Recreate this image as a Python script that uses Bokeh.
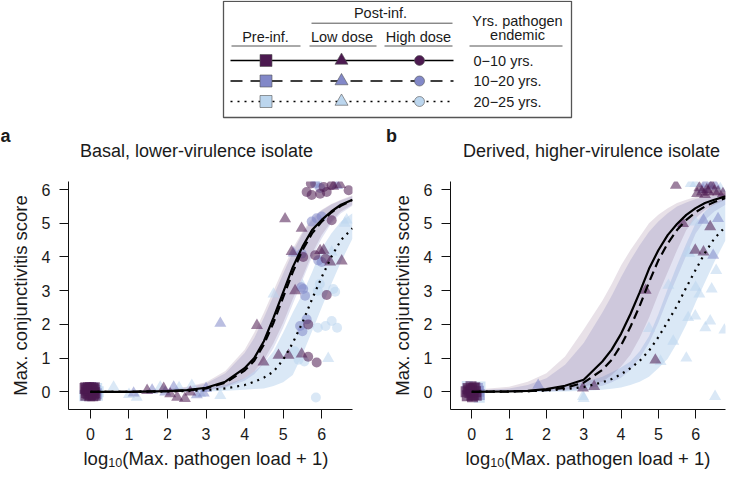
from bokeh.plotting import figure
from bokeh.models import Range1d, FixedTicker
from bokeh.layouts import column, row
from bokeh.embed import file_html
from bokeh.resources import INLINE
from bokeh.core.properties import value

FONT = "Liberation Sans"
TXT = "#1a1a1a"

# ---------------- data ----------------
groups = ["0\u221210 yrs.", "10\u221220 yrs.", "20\u221225 yrs."]
colors = ["#4c1a50", "#8288c8", "#bcd6ee"]
band_alpha = [0.13, 0.23, 0.55]
dashes = ["solid", "9 5", "2 5"]
x_ticks = [0, 1, 2, 3, 4, 5, 6]
y_ticks = [0, 1, 2, 3, 4, 5, 6]
titles = ["Basal, lower-virulence isolate", "Derived, higher-virulence isolate"]
panel_tags = ["a", "b"]
y_title = "Max. conjunctivitis score"
x_title = ["log", "10", "(Max. pathogen load + 1)"]

# fitted curves and bands, panel a
xa = [0, 1, 2, 2.5, 3, 3.5, 4, 4.25, 4.5, 4.75, 5, 5.25, 5.5, 5.75, 6, 6.25, 6.5, 6.8]
a_fit_0 = [0, 0, 0.02, 0.05, 0.12, 0.3, 0.7, 1.0, 1.5, 2.2, 2.95, 3.7, 4.3, 4.8, 5.1, 5.35, 5.55, 5.7]
a_fit_1 = [0, 0, 0.02, 0.04, 0.1, 0.27, 0.63, 0.92, 1.4, 2.05, 2.8, 3.55, 4.2, 4.7, 5.05, 5.32, 5.52, 5.69]
a_fit_2 = [0, 0, 0.01, 0.02, 0.05, 0.1, 0.2, 0.3, 0.42, 0.6, 0.95, 1.45, 2.05, 2.75, 3.4, 4.0, 4.5, 4.85]
a_hi_0 = [0.02, 0.03, 0.08, 0.15, 0.28, 0.62, 1.25, 1.75, 2.35, 3.0, 3.65, 4.25, 4.75, 5.15, 5.4, 5.57, 5.7, 5.83]
a_lo_0 = [0, 0, 0, 0.01, 0.04, 0.15, 0.4, 0.6, 0.95, 1.45, 2.05, 2.75, 3.4, 4.1, 4.65, 5.05, 5.35, 5.55]
a_hi_1 = [0.02, 0.03, 0.07, 0.13, 0.25, 0.55, 1.15, 1.6, 2.2, 2.85, 3.5, 4.15, 4.7, 5.1, 5.38, 5.56, 5.68, 5.8]
a_lo_1 = [0, 0, 0, 0.01, 0.03, 0.12, 0.33, 0.52, 0.85, 1.3, 1.9, 2.6, 3.3, 4.0, 4.55, 5.0, 5.3, 5.52]
a_hi_2 = [0.01, 0.02, 0.05, 0.08, 0.13, 0.2, 0.4, 0.6, 0.85, 1.2, 1.75, 2.35, 2.9, 3.55, 4.25, 4.7, 5.05, 5.3]
a_lo_2 = [0, 0, 0, 0, 0.01, 0.03, 0.06, 0.08, 0.1, 0.17, 0.28, 0.5, 1.1, 1.8, 2.5, 3.2, 3.85, 4.55]

# fitted curves and bands, panel b
xb = [0, 1, 1.5, 2, 2.5, 3, 3.5, 3.75, 4, 4.25, 4.5, 4.75, 5, 5.25, 5.5, 5.75, 6, 6.25, 6.5, 6.8]
b_fit_0 = [0, 0.01, 0.03, 0.08, 0.18, 0.36, 0.9, 1.25, 1.72, 2.3, 2.95, 3.65, 4.2, 4.65, 4.98, 5.25, 5.45, 5.6, 5.7, 5.8]
b_fit_1 = [0, 0.005, 0.02, 0.05, 0.12, 0.27, 0.65, 0.95, 1.38, 1.92, 2.55, 3.25, 3.9, 4.4, 4.8, 5.1, 5.33, 5.5, 5.63, 5.75]
b_fit_2 = [0, 0.01, 0.02, 0.04, 0.08, 0.14, 0.28, 0.38, 0.52, 0.7, 0.92, 1.22, 1.62, 2.08, 2.55, 3.1, 3.62, 4.12, 4.55, 4.9]
b_hi_0 = [0.05, 0.15, 0.3, 0.55, 1.05, 1.85, 2.7, 3.2, 3.75, 4.2, 4.6, 5.0, 5.25, 5.45, 5.6, 5.7, 5.78, 5.83, 5.87, 5.9]
b_lo_0 = [0, 0, 0.01, 0.02, 0.06, 0.15, 0.3, 0.5, 0.75, 1.1, 1.6, 2.2, 2.9, 3.55, 4.2, 4.8, 5.15, 5.4, 5.55, 5.7]
b_hi_1 = [0.03, 0.1, 0.2, 0.4, 0.8, 1.45, 2.35, 2.85, 3.4, 3.9, 4.35, 4.75, 5.05, 5.3, 5.5, 5.62, 5.72, 5.78, 5.82, 5.87]
b_lo_1 = [0, 0, 0, 0.01, 0.03, 0.08, 0.18, 0.28, 0.42, 0.65, 1.0, 1.45, 2.05, 2.75, 3.4, 4.05, 4.7, 5.1, 5.35, 5.55]
b_hi_2 = [0.01, 0.02, 0.04, 0.08, 0.15, 0.28, 0.45, 0.58, 0.72, 0.9, 1.2, 1.65, 2.3, 3.05, 3.75, 4.4, 5.0, 5.35, 5.6, 5.75]
b_lo_2 = [0, 0, 0, 0, 0.01, 0.03, 0.06, 0.09, 0.13, 0.2, 0.3, 0.45, 0.7, 0.98, 1.45, 2.0, 2.65, 3.25, 3.85, 4.5]

# observations (x, y) — panel a
a_pre_0 = [(-0.1, 0.05), (0.0, -0.08), (0.05, 0.1), (0.1, -0.02), (-0.12, -0.1), (0.08, 0.08), (0.12, -0.1),
           (-0.05, 0.12), (0.02, 0.0), (-0.14, 0.1), (-0.06, -0.05), (0.06, -0.12), (-0.02, -0.12), (0.0, 0.12),
           (-0.1, -0.02), (0.04, 0.04), (-0.04, 0.06), (0.1, 0.12), (-0.12, 0.12), (0.08, -0.06)]
a_pre_1 = [(0.12, 0.04), (-0.08, 0.1), (0.15, -0.06), (0.04, 0.12)]
a_pre_2 = [(0.16, 0.1), (0.18, -0.1), (-0.15, -0.12), (0.2, 0.0)]
a_low_0 = [(1.47, 0.04), (2.07, -0.06), (2.25, -0.16), (2.59, -0.01), (1.9, 0.1), (2.45, -0.2), (4.32, 1.97),
           (4.49, 0.88), (4.88, 1.08), (5.14, 1.08), (5.48, 1.12), (5.05, 5.13), (5.22, 4.16), (5.48, 4.85),
           (5.31, 3.0), (5.96, 4.19), (6.05, 4.2), (6.22, 3.85), (6.52, 3.88), (6.48, 6.15), (6.3, 6.1)]
a_low_1 = [(1.12, -0.04), (1.94, -0.01), (2.16, 0.14), (2.76, -0.09), (2.94, -0.04), (1.6, 0.05), (3.0, 0.1),
           (3.37, 2.03), (5.27, 4.12), (6.4, 6.12)]
a_low_2 = [(0.6, 0.14), (1.2, -0.16), (1.81, 0.14), (2.63, 0.19), (3.37, -0.11), (2.3, 0.12), (1.0, -0.08),
           (2.85, -0.05), (6.65, 5.1), (6.26, 4.15), (6.17, 0.99), (4.75, 2.9), (5.5, 3.15), (6.6, 5.0)]
a_high_0 = [(5.61, 5.93), (5.74, 5.84), (5.96, 5.88), (6.05, 6.08), (6.13, 5.93), (6.26, 6.13), (6.7, 5.98),
            (6.26, 5.09), (5.83, 4.05), (6.1, 3.95), (6.13, 2.87), (5.65, 2.0), (5.65, 1.04), (5.87, 0.87),
            (5.72, 6.18), (5.52, 4.0)]
a_high_1 = [(5.83, 6.18), (5.96, 6.05), (5.74, 5.05), (5.87, 5.15), (5.48, 4.1), (5.91, 3.9), (6.0, 3.85),
            (5.52, 3.05), (5.57, 2.85), (5.47, 3.1), (5.44, 1.95), (5.61, 2.15), (5.5, 1.8), (6.0, 5.2)]
a_high_2 = [(5.85, -0.17), (5.9, 1.9), (6.1, 1.95), (6.26, 2.1), (6.35, 2.97), (5.9, 3.0), (5.4, 0.95),
            (5.55, 0.9), (5.95, 3.2), (5.88, 6.2), (6.3, 3.05), (6.4, 1.9), (5.3, 1.2)]

# observations (x, y) — panel b
b_pre_0 = [(-0.1, 0.1), (0.0, 0.05), (0.05, -0.08), (-0.12, -0.12), (0.08, 0.12), (-0.05, -0.02), (0.1, 0.0),
           (0.02, -0.15), (-0.15, 0.0), (0.12, -0.1), (-0.02, 0.15), (0.05, 0.1), (-0.08, 0.05), (0.0, -0.1)]
b_pre_1 = [(0.18, 0.02), (0.2, -0.08), (0.15, 0.1)]
b_pre_2 = [(0.2, -0.16), (-0.12, 0.16), (0.22, 0.14)]
b_low_0 = [(2.98, 0.11), (3.28, 0.16), (4.66, 3.01), (4.92, 0.94), (5.47, 6.13), (6.04, 5.88), (6.17, 5.93),
           (6.34, 5.93), (6.43, 6.13), (6.6, 5.93), (6.73, 5.88), (6.39, 4.9), (5.66, 4.99), (5.99, 4.2),
           (6.21, 4.15), (6.3, 6.0), (6.5, 5.95), (6.1, 6.05), (6.25, 5.85)]
b_low_1 = [(1.78, 0.19), (6.26, 6.18), (6.52, 6.13), (6.21, 5.09), (6.6, 5.14), (6.47, 4.05), (6.4, 6.08),
           (6.2, 6.0)]
b_low_2 = [(5.87, 6.18), (5.99, 6.18), (6.66, 6.03), (5.99, 5.04), (5.8, 4.15), (5.27, 3.16), (6.0, 3.1),
           (6.1, 2.9), (6.43, 3.05), (4.75, 1.88), (5.8, 2.2), (5.99, 2.25), (6.26, 1.9), (6.39, 2.1),
           (6.77, 1.83), (5.06, 0.9), (5.75, 1.0), (2.98, -0.14), (6.52, -0.14), (3.0, -0.2), (5.4, 1.5),
           (6.55, 3.6), (5.83, 4.1)]

X_RANGE = (-0.57, 6.8)
Y_RANGE = (-0.525, 6.24)


def make_panel(width, mbl, mbr, xs, fits, his, los, pre, low, high):
    p = figure(width=width, height=283, x_range=Range1d(*X_RANGE), y_range=Range1d(*Y_RANGE),
               min_border_left=mbl, min_border_right=mbr, min_border_top=16, min_border_bottom=39,
               output_backend="svg", toolbar_location=None, tools="")
    p.grid.visible = False
    p.outline_line_color = None
    p.background_fill_color = "white"
    p.border_fill_color = "white"
    p.xaxis.ticker = FixedTicker(ticks=x_ticks)
    p.yaxis.ticker = FixedTicker(ticks=y_ticks)
    for ax in (p.xaxis[0], p.yaxis[0]):
        ax.major_tick_out = 9
        ax.major_tick_in = 0
        ax.minor_tick_out = 0
        ax.minor_tick_in = 0
        ax.major_label_standoff = 9
        ax.major_label_text_font = FONT
        ax.major_label_text_font_size = "16px"
        ax.major_label_text_color = TXT
        ax.axis_line_color = "#111111"
        ax.major_tick_line_color = "#111111"
    p.yaxis.axis_label = y_title
    p.yaxis.axis_label_text_font = FONT
    p.yaxis.axis_label_text_font_size = "18.5px"
    p.yaxis.axis_label_text_font_style = "normal"
    p.yaxis.axis_label_text_color = TXT
    p.yaxis.axis_label_standoff = 8

    for g in (2, 1, 0):
        p.varea(x=xs, y1=los[g], y2=his[g], fill_color=colors[g], fill_alpha=band_alpha[g])
    for g in (2, 1, 0):
        for pts, mk, sz, al in ((pre[g], "square", 11, 0.65), (low[g], "triangle", 12, 0.55),
                                (high[g], "circle", 10, 0.55)):
            if not pts:
                continue
            p.scatter([q[0] for q in pts], [q[1] for q in pts], marker=mk, size=sz,
                      fill_color=colors[g], fill_alpha=al, line_color=None)
    for g in range(3):
        p.line(xs, fits[g], line_color="black", line_width=2.2, line_dash=dashes[g])
    return p


pa = make_panel(370, 68, 18, xa, [a_fit_0, a_fit_1, a_fit_2], [a_hi_0, a_hi_1, a_hi_2],
                [a_lo_0, a_lo_1, a_lo_2], [a_pre_0, a_pre_1, a_pre_2], [a_low_0, a_low_1, a_low_2],
                [a_high_0, a_high_1, a_high_2])
pb = make_panel(356, 80, 1, xb, [b_fit_0, b_fit_1, b_fit_2], [b_hi_0, b_hi_1, b_hi_2],
                [b_lo_0, b_lo_1, b_lo_2], [b_pre_0, b_pre_1, b_pre_2], [b_low_0, b_low_1, b_low_2],
                [[], [], []])


def strip(height):
    f = figure(width=726, height=height, x_range=Range1d(0, 726), y_range=Range1d(height, 0),
               x_axis_location=None, y_axis_location=None, min_border=0,
               output_backend="svg", toolbar_location=None, tools="")
    f.grid.visible = False
    f.outline_line_color = None
    f.background_fill_color = "white"
    f.border_fill_color = "white"
    return f


def put_text(f, x, y, s, size="14.5px", align="center", style="normal"):
    f.text([x], [y], text=[s], text_font=value(FONT), text_font_size=size, text_align=align,
           text_baseline="middle", text_color=TXT, text_font_style=style)


# ---------------- header: legend key, panel tags and titles ----------------
h = strip(165)
h.quad(left=[223], right=[571], top=[0.8], bottom=[117], fill_color=None, line_color="#555555", line_width=1.3)
put_text(h, 380, 12, "Post-inf.")
h.line([311, 452], [22.7, 22.7], line_color="#555555", line_width=1)
put_text(h, 265, 36, "Pre-inf.")
put_text(h, 341.5, 36, "Low dose")
put_text(h, 418, 36, "High dose")
for x0, x1 in ((231, 300), (309, 376), (384, 452), (469, 562)):
    h.line([x0, x1], [45.5, 45.5], line_color="#555555", line_width=1)
put_text(h, 517, 20, "Yrs. pathogen")
put_text(h, 517, 34, "endemic")
legend_dash = ["solid", "12 8", "2 5"]
row_y = [60, 80.5, 101]
for g in range(3):
    yy = row_y[g]
    h.line([230, 453], [yy, yy], line_color="black", line_width=1.6, line_dash=legend_dash[g])
    h.scatter([265.5], [yy], marker="square", size=12, fill_color=colors[g], line_color="#555555", line_width=0.6)
    h.scatter([341], [yy], marker="triangle", size=13, fill_color=colors[g], line_color="#555555", line_width=0.6)
    h.scatter([419], [yy], marker="circle", size=10, fill_color=colors[g], line_color="#555555", line_width=0.6)
    put_text(h, 473, yy, groups[g], align="left")

put_text(h, 5, 135, panel_tags[0], size="18px", style="bold")
put_text(h, 391, 135, panel_tags[1], size="18px", style="bold")
put_text(h, 196, 150, titles[0], size="18px")
put_text(h, 591, 150, titles[1], size="18px")

# ---------------- footer: x-axis titles with subscript ----------------
ft = strip(21)
for x0 in (83, 465):
    put_text(ft, x0, 10, x_title[0], size="18.5px", align="left")
    put_text(ft, x0 + 24.7, 14, x_title[1], size="12.5px", align="left")
    put_text(ft, x0 + 38.8, 10, x_title[2], size="18.5px", align="left")

layout = column(h, row(pa, pb), ft)
open("out.html", "w").write(file_html(layout, INLINE))
